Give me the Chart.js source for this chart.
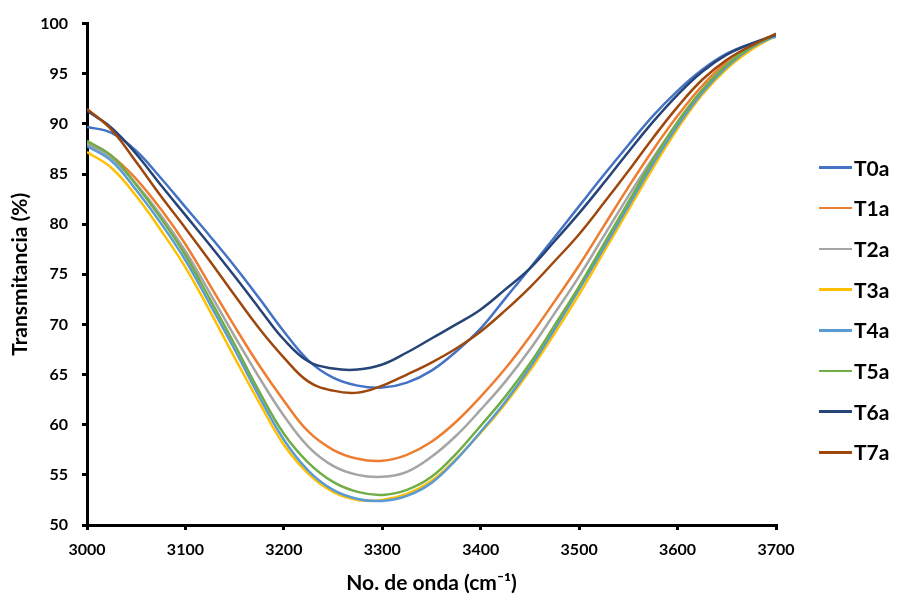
<!DOCTYPE html>
<html><head><meta charset="utf-8">
<script src="https://cdn.jsdelivr.net/npm/chart.js@4.4.1/dist/chart.umd.min.js"></script>
<style>
html,body{margin:0;padding:0;background:#fff;}
#wrap{position:relative;width:897px;height:598px;}
#legend{position:absolute;left:0;top:0;width:897px;height:598px;pointer-events:none;font-family:Lato,'Open Sans',sans-serif;font-weight:700;font-size:21px;color:#000;}
.item{position:absolute;left:819px;height:24px;line-height:24px;display:flex;align-items:center;white-space:nowrap;}
.sw{width:33px;height:2.5px;margin-right:2px;}
</style></head><body>
<div id="wrap"><canvas id="c" width="897" height="598"></canvas><div id="legend"></div></div>
<script>
const wavenumbers = [3000,3025,3050,3075,3100,3125,3150,3175,3200,3225,3250,3275,3300,3325,3350,3375,3400,3425,3450,3475,3500,3525,3550,3575,3600,3625,3650,3675,3700];
const T0a = [89.7,89.1,87.3,84.6,81.7,78.8,75.8,72.6,69.3,66.4,64.7,63.9,63.7,64.2,65.4,67.3,69.6,72.6,75.6,78.7,81.8,84.9,87.9,90.8,93.3,95.4,97.0,98.0,98.7];
const T1a = [88.1,86.8,84.5,81.5,78.0,73.9,69.8,65.9,62.4,59.3,57.5,56.6,56.4,57.0,58.3,60.3,62.8,65.6,68.8,72.3,75.9,79.8,83.7,87.4,90.8,93.8,96.2,97.8,98.9];
const T2a = [88.0,86.6,84.0,80.9,77.3,73.1,68.8,64.7,60.9,57.8,55.9,55.0,54.8,55.3,56.8,58.9,61.5,64.3,67.5,71.1,74.8,78.8,82.8,86.6,90.1,93.3,95.9,97.7,98.9];
const T3a = [87.2,85.6,82.8,79.4,75.7,71.3,66.7,62.2,58.0,55.1,53.3,52.5,52.5,53.1,54.4,56.6,59.2,62.1,65.4,69.1,73.0,77.2,81.4,85.6,89.5,92.9,95.5,97.4,98.8];
const T4a = [87.8,86.3,83.4,80.1,76.4,72.0,67.5,62.8,58.5,55.4,53.5,52.6,52.4,52.9,54.2,56.5,59.3,62.3,65.7,69.5,73.5,77.6,81.8,86.0,89.8,93.1,95.7,97.6,98.8];
const T5a = [88.3,86.8,83.9,80.6,76.9,72.5,68.0,63.3,59.1,56.2,54.3,53.3,53.0,53.5,54.8,57.1,59.9,62.8,66.1,69.9,73.8,78.0,82.2,86.4,90.2,93.4,95.9,97.7,98.9];
const T6a = [91.3,89.6,87.0,83.9,80.9,77.9,74.8,71.6,68.5,66.3,65.6,65.5,66.0,67.2,68.6,70.0,71.5,73.5,75.6,78.3,81.1,84.1,87.2,90.2,92.9,95.2,96.9,98.0,98.9];
const T7a = [91.5,89.4,86.2,82.8,79.6,76.3,72.9,69.6,66.7,64.3,63.4,63.2,63.9,65.0,66.2,67.6,69.3,71.4,73.7,76.3,79.0,82.1,85.3,88.6,91.7,94.4,96.4,97.8,99.0];
const seriesNames = ['T0a','T1a','T2a','T3a','T4a','T5a','T6a','T7a'];
const seriesValues = [T0a,T1a,T2a,T3a,T4a,T5a,T6a,T7a];
const seriesColors = ['#4472C4','#ED7D31','#A5A5A5','#FFC000','#5B9BD5','#70AD47','#264478','#9E480E'];
const xTickLabels = ['3000','3100','3200','3300','3400','3500','3600','3700'];
const yTickLabels = ['50','55','60','65','70','75','80','85','90','95','100'];
const xTitle = 'No. de onda (cm\u207B\u00B9)';
const yTitle = 'Transmitancia (%)';

const FONT = "Lato, 'Open Sans', sans-serif";
const datasets = seriesNames.map((name, i) => ({
  label: name,
  data: wavenumbers.map((x, k) => ({x: x, y: seriesValues[i][k]})),
  borderColor: seriesColors[i],
  backgroundColor: seriesColors[i],
  borderWidth: 2.5,
  pointRadius: 0,
  tension: 0.4,
  fill: false,
  order: -i
}));

new Chart(document.getElementById('c'), {
  type: 'line',
  data: {datasets},
  options: {
    responsive: false,
    animation: false,
    events: [],
    layout: {padding: {left: 0, right: 121, top: 21, bottom: 0}},
    plugins: {legend: {display: false}, tooltip: {enabled: false}},
    scales: {
      x: {
        type: 'linear',
        min: Number(xTickLabels[0]), max: Number(xTickLabels[xTickLabels.length-1]),
        afterBuildTicks: s => { s.ticks = xTickLabels.map(v => ({value: Number(v)})); },
        afterFit: s => { s.height = 73; },
        ticks: {callback: v => String(v), color: '#000', padding: 10, maxRotation: 0, autoSkip: false,
                font: {family: FONT, size: 16, weight: 'bold'}},
        grid: {drawOnChartArea: false, drawTicks: true, tickLength: 5, color: '#000', lineWidth: 3},
        border: {display: true, color: '#000', width: 3},
        title: {display: true, text: xTitle, color: '#000', padding: {top: 0, bottom: 2},
                font: {family: FONT, size: 21, weight: 'bold'}}
      },
      y: {
        type: 'linear',
        min: Number(yTickLabels[0]), max: Number(yTickLabels[yTickLabels.length-1]),
        afterBuildTicks: s => { s.ticks = yTickLabels.map(v => ({value: Number(v)})); },
        afterFit: s => { s.width = 87; },
        ticks: {callback: v => String(v), color: '#000', padding: 14, autoSkip: false,
                font: {family: FONT, size: 16, weight: 'bold'}},
        grid: {drawOnChartArea: false, drawTicks: true, tickLength: 5, color: '#000', lineWidth: 3},
        border: {display: true, color: '#000', width: 3},
        title: {display: true, text: yTitle, color: '#000', padding: {top: 8, bottom: 0},
                font: {family: FONT, size: 21, weight: 'bold'}}
      }
    }
  }
});

const leg = document.getElementById('legend');
seriesNames.forEach((name, i) => {
  const it = document.createElement('div');
  it.className = 'item';
  it.style.top = (167.5 + 40.7 * i - 12) + 'px';
  const sw = document.createElement('span');
  sw.className = 'sw';
  sw.style.background = seriesColors[i];
  const tx = document.createElement('span');
  tx.textContent = name;
  it.appendChild(sw); it.appendChild(tx);
  leg.appendChild(it);
});
</script>
</body></html>
